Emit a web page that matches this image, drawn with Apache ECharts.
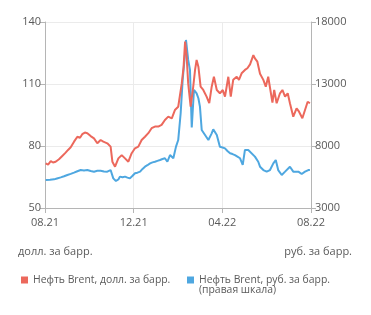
<!DOCTYPE html>
<html>
<head>
<meta charset="utf-8">
<script src="https://cdn.jsdelivr.net/npm/echarts@6/dist/echarts.min.js"></script>
<style>
html,body{margin:0;padding:0;background:#fff;}
#chart{width:371px;height:315px;}
</style>
</head>
<body>
<div id="chart"></div>
<script>
// X positions are months elapsed since 01.08.2021
var xTickLabels = ['08.21', '12.21', '04.22', '08.22'];
var leftTicks = [50, 80, 110, 140];
var rightTicks = [3000, 8000, 13000, 18000];

var usdMonths = [0.03,0.14,0.26,0.36,0.48,0.63,0.78,0.93,1.04,1.16,1.31,1.46,1.58,1.68,1.80,1.91,2.06,2.21,2.36,2.51,2.63,2.81,2.96,3.04,3.16,3.31,3.46,3.61,3.76,3.91,4.06,4.21,4.36,4.51,4.66,4.81,4.96,5.11,5.26,5.41,5.56,5.72,5.86,6.01,6.09,6.17,6.25,6.32,6.39,6.46,6.57,6.68,6.77,6.84,6.92,7.02,7.14,7.29,7.41,7.52,7.62,7.75,7.89,8.02,8.12,8.27,8.38,8.49,8.65,8.75,8.87,9.02,9.13,9.25,9.40,9.47,9.58,9.70,9.85,9.96,10.07,10.15,10.26,10.34,10.45,10.60,10.71,10.83,10.95,11.05,11.20,11.35,11.46,11.61,11.73,11.85,11.95];
var usdValues = [71.6,71.0,72.7,72.0,72.4,73.6,75.2,76.8,78.1,79.4,82.1,84.5,84.0,85.7,86.5,86.2,84.8,83.7,81.3,82.9,82.1,81.3,79.7,72.4,70.0,74.0,75.6,74.0,72.4,76.5,78.9,79.7,82.9,84.5,86.2,88.6,89.4,89.4,90.2,92.6,94.2,93.4,97.4,99.0,98.2,110.3,118.0,130.5,123.2,110.3,99.0,108.0,116.8,121.6,118.4,108.7,107.1,103.9,100.7,108.7,113.5,107.1,105.5,107.1,103.9,113.5,103.9,112.0,113.5,112.0,115.2,116.8,117.6,119.5,124.0,122.4,120.8,115.0,112.0,108.7,113.5,113.5,101.0,107.1,100.7,105.5,107.1,103.9,105.5,100.7,94.2,98.2,96.6,93.4,97.4,101.4,100.7];

var rubMonths = [0.03,0.23,0.41,0.54,0.71,0.86,1.01,1.16,1.31,1.46,1.61,1.76,1.91,2.06,2.21,2.36,2.51,2.66,2.81,2.96,3.08,3.20,3.31,3.38,3.50,3.61,3.72,3.83,3.95,4.06,4.17,4.29,4.40,4.51,4.62,4.74,4.85,4.96,5.07,5.19,5.30,5.41,5.52,5.64,5.79,5.91,6.01,6.12,6.21,6.32,6.36,6.46,6.54,6.62,6.72,6.84,6.92,6.99,7.07,7.22,7.37,7.52,7.59,7.75,7.89,8.01,8.12,8.23,8.35,8.46,8.57,8.68,8.80,8.92,9.02,9.17,9.25,9.47,9.62,9.70,9.85,10.00,10.15,10.30,10.41,10.52,10.68,10.83,10.90,11.05,11.20,11.43,11.58,11.65,11.73,11.88,11.95];
var rubValues = [5258,5280,5310,5380,5470,5560,5660,5750,5850,5960,6060,6030,6060,5980,5930,6000,6010,5950,5930,6060,5390,5180,5300,5530,5480,5530,5450,5390,5600,5800,5850,5930,6150,6330,6450,6600,6680,6730,6800,6870,6950,7010,6730,7270,7010,7950,8480,10640,13320,15500,16550,14940,14130,9500,12520,12250,11850,11170,9290,8890,8480,9020,9350,8890,7940,7880,7810,7600,7410,7350,7270,7150,7010,6470,7680,7680,7540,7140,6730,6330,6060,5930,6060,6600,6870,6060,5660,5930,6060,6330,5930,5930,5740,5660,5930,6060,6060];

var usdName = 'Нефть Brent, долл. за барр.';
var rubName = 'Нефть Brent, руб. за барр.';
var RED = '#EC685C';
var BLUE = '#4EA7E0';
var FONT = 'Open Sans';
var LABEL = '#5a5a5a';

function zip(xs, ys) { return xs.map(function (x, i) { return [x, ys[i]]; }); }

var chart = echarts.init(document.getElementById('chart'), null, { renderer: 'canvas' });
chart.setOption({
  animation: false,
  grid: { left: 45, right: 60, top: 22, bottom: 107 },
  xAxis: {
    type: 'value', min: 0, max: 12, interval: 4,
    axisLine: { show: true, lineStyle: { color: '#b5b5b5', width: 1 } },
    axisTick: { show: true, length: 5, lineStyle: { color: '#b5b5b5' } },
    axisLabel: {
      margin: 9, color: LABEL, fontFamily: FONT, fontSize: 11,
      formatter: function (v) { return xTickLabels[Math.round(v / 4)] || ''; }
    },
    splitLine: { show: true, lineStyle: { color: '#ebebeb', width: 1 } }
  },
  yAxis: [{
    type: 'value', min: 50, max: 140, interval: 30, position: 'left',
    axisLine: { show: true, lineStyle: { color: '#b5b5b5', width: 1 } },
    axisTick: { show: true, length: 5, lineStyle: { color: '#b5b5b5' } },
    axisLabel: { margin: 4, color: LABEL, fontFamily: FONT, fontSize: 11, customValues: leftTicks,
      formatter: function (v) { return String(v); } },
    splitLine: { show: true, lineStyle: { color: '#ebebeb', width: 1 } }
  }, {
    type: 'value', min: 3000, max: 18000, interval: 5000, position: 'right',
    axisLine: { show: true, lineStyle: { color: '#b5b5b5', width: 1 } },
    axisTick: { show: true, length: 5, lineStyle: { color: '#b5b5b5' }, customValues: rightTicks },
    axisLabel: { margin: 4, color: LABEL, fontFamily: FONT, fontSize: 11, customValues: rightTicks,
      formatter: function (v) { return String(v); } },
    splitLine: { show: false }
  }],
  legend: [{
    left: 16, top: 270, data: [usdName],
    icon: 'rect', itemWidth: 7, itemHeight: 7, itemGap: 10,
    textStyle: { color: LABEL, fontFamily: FONT, fontSize: 10.4 }
  }, {
    left: 182, top: 270, data: [rubName],
    icon: 'rect', itemWidth: 7, itemHeight: 7, itemGap: 10,
    textStyle: { color: LABEL, fontFamily: FONT, fontSize: 10.4 }
  }],
  graphic: [
    { type: 'text', left: 18, top: 246, style: { text: 'долл. за барр.', fill: LABEL, font: '11px "Open Sans"' } },
    { type: 'text', right: 19, top: 246, style: { text: 'руб. за барр.', fill: LABEL, font: '11px "Open Sans"' } },
    { type: 'text', left: 199, top: 285, style: { text: '(правая шкала)', fill: LABEL, font: '10.4px "Open Sans"' } }
  ],
  series: [{
    name: usdName, type: 'line', yAxisIndex: 0, showSymbol: false,
    color: RED, lineStyle: { color: RED, width: 2 },
    data: zip(usdMonths, usdValues), z: 3
  }, {
    name: rubName, type: 'line', yAxisIndex: 1, showSymbol: false,
    color: BLUE, lineStyle: { color: BLUE, width: 2 },
    data: zip(rubMonths, rubValues), z: 2
  }]
});
</script>
</body>
</html>
